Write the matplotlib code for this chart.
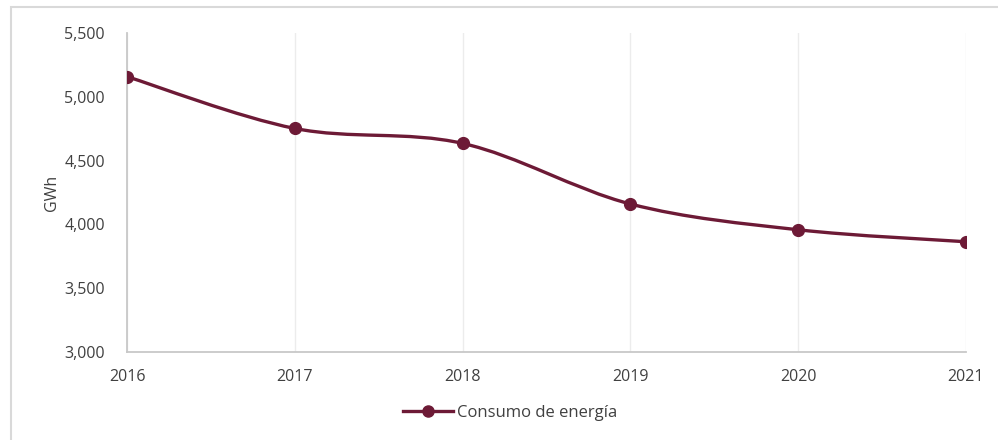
# consumo de energia 2016-2021, smoothed line chart

import matplotlib.pyplot as plt
from matplotlib.path import Path
from matplotlib.patches import PathPatch, Rectangle
from matplotlib.lines import Line2D
import numpy as np

years = [2016, 2017, 2018, 2019, 2020, 2021]
consumo = [5158, 4752, 4635, 4160, 3958, 3864]
y_ticks = [3000, 3500, 4000, 4500, 5000, 5500]
serie = 'Consumo de energía'

color = '#6d1a36'
txt = '#404040'
plt.rcParams['font.family'] = ['Open Sans', 'DejaVu Sans']


def smooth_path(x, y):
    # bezier segments with catmull-rom style control points (like excel smoothed lines)
    pts = np.column_stack([x, y]).astype(float)
    n = len(pts)
    verts = [pts[0]]
    codes = [Path.MOVETO]
    for i in range(n - 1):
        p0 = pts[i - 1] if i > 0 else pts[i]
        p1 = pts[i]
        p2 = pts[i + 1]
        p3 = pts[i + 2] if i + 2 < n else pts[i + 1]
        c1 = p1 + (p2 - p0) / 6
        c2 = p2 - (p3 - p1) / 6
        verts += [c1, c2, p2]
        codes += [Path.CURVE4] * 3
    return Path(verts, codes)


fig = plt.figure(figsize=(9.98, 4.4), dpi=100)
# light frame around the chart
fig.patches.append(Rectangle((11 / 998, -0.1), 1.2, 1 - 7 / 440 + 0.1,
                             transform=fig.transFigure, fill=False,
                             edgecolor='#d9d9d9', lw=1.5))
ax = fig.add_axes([127 / 998, 1 - 352 / 440, (966 - 127) / 998, (352 - 33) / 440])

ax.add_patch(PathPatch(smooth_path(years, consumo), fill=False, edgecolor=color,
                       lw=2.4, capstyle='round', zorder=3))
ax.plot(years, consumo, 'o', color=color, ms=8.5, zorder=4)

ax.set_xlim(2016, 2021)
ax.set_ylim(3000, 5500)
ax.set_xticks(years)
ax.set_yticks(y_ticks)
ax.set_yticklabels([f'{v:,}' for v in y_ticks])
ax.tick_params(length=0, labelsize=11.5, labelcolor=txt)
ax.tick_params(axis='x', pad=12)
ax.tick_params(axis='y', pad=16)
ax.grid(axis='x', color='#ececec', lw=1)
ax.set_axisbelow(True)
for s in ['top', 'right']:
    ax.spines[s].set_visible(False)
for s in ['left', 'bottom']:
    ax.spines[s].set_color('#c8c8c8')
    ax.spines[s].set_linewidth(1.3)
ax.set_ylabel('GWh', fontsize=11.5, color=txt)
ax.yaxis.set_label_coords(-0.08, 0.5)

handle = Line2D([], [], color=color, lw=2.4, marker='o', ms=8)
fig.legend([handle], [serie], loc='center', bbox_to_anchor=(510 / 998, 1 - 413 / 440),
           frameon=False, fontsize=12, labelcolor=txt, handlelength=3.0,
           handletextpad=0.2)

fig.savefig('out.png', dpi=100)
